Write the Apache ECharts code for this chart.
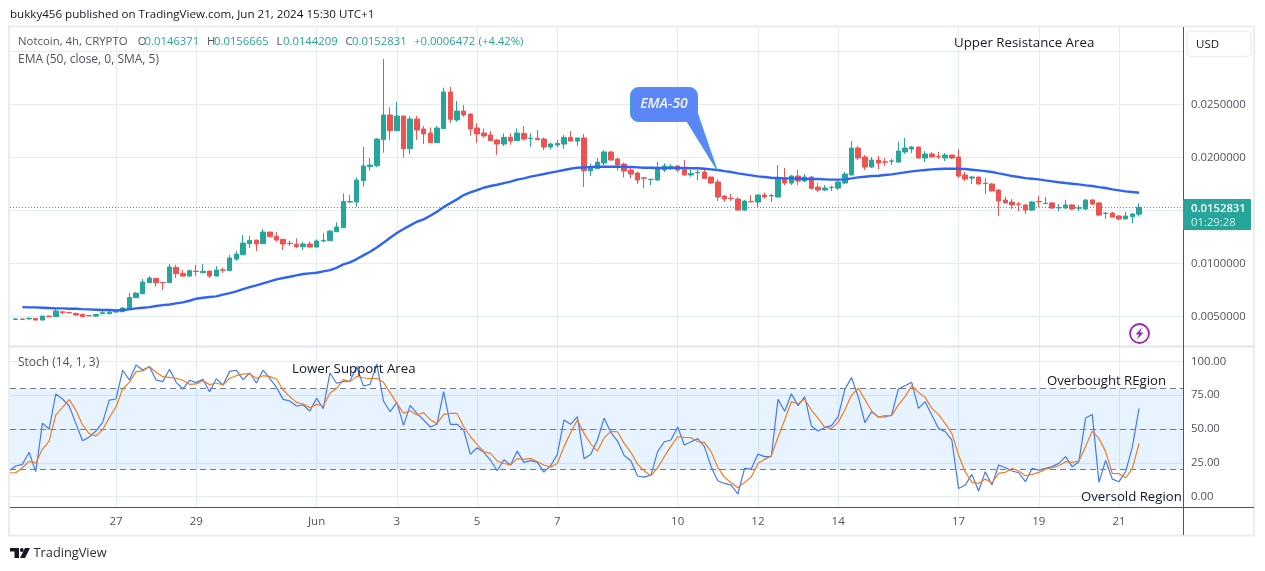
<!DOCTYPE html>
<html><head><meta charset="utf-8">
<style>html,body{margin:0;padding:0;background:#fff}#c{width:1265px;height:571px}</style>
<script src="https://cdn.jsdelivr.net/npm/echarts@6/dist/echarts.min.js"></script>
</head><body><div id="c"></div>
<script>
// Prices are listed in units of 0.0001 USD: [open, close, low, high]; one row per 4h bar.
const PRICE_UNIT = 1e-4;
const candles = [
[47.1,47.5,46.8,48.2],[47.5,47.0,46.6,47.8],[47.5,48.2,47.3,49],[48.0,46.5,46.3,48.2],[46.5,50.2,46.3,50.8],[50.2,49.6,49.4,50.6],[49.6,55.0,49.4,57.5],[54.3,53.4,52,54.5],[53.7,53.3,53.1,53.8],[52.7,51.2,50.6,53.8],
[51.8,49.6,49.4,52.5],[50.8,50.5,50.2,51],[50.2,51.8,49.3,52.2],[52.4,53.4,52.2,55.3],[52.4,54,52.2,55],[54,55,53.4,56.5],[54.3,57.8,54,58.7],[56.8,67.8,56.5,72.2],[67.5,71.9,67.3,72.9],[71.3,82.3,71,85.1],
[81.7,86.1,81.5,88],[85.8,81.7,77.9,86],[82,81.7,74.8,82.2],[81.7,96.5,81.5,99.3],[96.1,90.2,86.1,98.4],[90.5,88,87.5,93.6],[88,93,87,94],[92.6,92.3,88.3,98.4],[91.1,92.4,90.8,99.3],[92.7,88,86.1,93],
[88,93.6,87.6,97.4],[93.8,93.5,91.1,96.1],[93,105,92.8,107.8],[104,108.7,102.4,111.6],[108,119.1,107.8,126.7],[118.5,121.6,114.4,126],[121.9,118.2,111.5,122.2],[118.5,129.5,118.2,132.3],[129.5,125.1,125,129.7],[125.4,121.9,120.4,129.5],
[122.6,118.2,112.5,122.8],[118.9,118.6,116.3,121.3],[117.9,115.6,114.4,123.5],[115.6,118.2,112.5,120],[118.2,115.3,115,120.7],[115.3,121,115,122.6],[121,121.6,120,128.5],[121.3,130.4,121,131.4],[129.8,134.2,129.5,138.6],[133.6,158.4,133.4,166],
[157.8,158.4,157.2,164.4],[157.8,178.5,153.4,181],[177.9,191.8,172.3,209.7],[191.1,192.7,187.4,199.3],[192,217.2,190.5,218.2],[216.6,239.9,204.3,292.7],[239.9,225.1,216.3,247.1],[225.1,238.9,224.8,252.1],[238.9,208.1,199.6,239.2],[208.1,236.1,203,238.9],
[236.1,225.7,216.3,238.9],[226.7,222,212.5,229.5],[222.9,213.8,213.5,228.2],[213.8,227.6,213.5,229.5],[227,261.6,226.7,265.7],[261.6,235.8,232.6,266.3],[235.2,243.6,233.6,253.1],[243.6,239.9,238.3,249.3],[240.8,226.7,220.4,241],[227.6,222,213.8,232],
[222.9,220.1,218.5,227.3],[221,215.7,215.5,224.8],[216.3,212.5,202.4,217.2],[212.5,218.8,210.6,222.6],[218.8,215.3,211.9,222.6],[215.7,222.9,215.5,227.3],[222.6,217.2,215.7,229.5],[217.6,218,210,222.6],[217.9,216.6,216.4,225.7],[217.2,209.7,206.9,218.8],
[209.7,212.5,207.5,214],[211.6,213.1,209.4,216.6],[212.5,218.8,207.8,221],[218.8,215.3,215,224.8],[215.3,218.2,210.9,218.4],[218.2,187.4,172,222],[187.4,190.5,182.3,194.3],[189.2,195.5,189,199.3],[194.6,205,192.7,206.9],[205,197.4,197.2,205.9],
[198.4,192.7,187.4,199.6],[193.6,187,181.1,194.9],[188,184.2,180.1,190.5],[185.1,178.5,174.8,186.4],[180.6,180.3,171,181.4],[179,179.3,173.8,179.5],[178.5,188.9,178.3,195.5],[188,191.8,186.1,194.3],[190.9,191.2,188,193.6],[191.8,188,186.1,192.7],
[188.6,183.3,183,197.4],[183.3,184.8,181.7,188],[185.6,185.9,178.5,188],[186.1,180.1,179.8,188.6],[181.4,175.7,174.8,181.6],[176.7,162.5,158.7,179.2],[163.4,160.6,157.8,164.4],[161.3,161.0,159,165.3],[160.6,150.2,150,162.5],[150.2,158.7,149.6,159.7],
[158.2,158.0,157.8,164.4],[157.8,164.4,153.4,165],[164.4,162.5,161,166.9],[163.6,163.9,157.8,165.3],[162.5,180.4,162,192.7],[180.4,175.7,173.8,189.9],[175.7,182.3,173.8,183.3],[182.3,177.6,173.8,188],[177.6,181.4,176.7,184.2],[181.4,170.7,169.7,182.3],
[171.9,169.1,167.2,175.7],[169.1,171,168.2,173.8],[171.4,171.7,168.2,173.2],[171,176.7,169.1,177.6],[175.7,184.2,174.8,186.1],[183.3,208.7,183,215.4],[208.7,199.3,197.4,210.6],[200.3,190.8,188,202.1],[190.8,197.4,189.9,200.3],[197.4,194.6,188.9,201.2],
[195.7,195.4,191.8,199.3],[196.3,196.6,192.7,198.4],[195.5,205.9,195.2,214.4],[205,208.7,203.1,218.2],[207.8,209.7,204,210.6],[209.7,199.3,199,210],[199.3,203.1,195.5,205.9],[203.1,200.3,200,205],[200.7,200.4,198.4,205],[199.3,202.1,196.5,204],
[202.1,199.3,198.4,202.4],[200.3,182.3,180.4,207.8],[183.3,179.5,177.6,186.1],[180.4,181.4,174.8,182.3],[181.4,174.8,174.6,181.6],[175.6,175.3,165.3,180.4],[174.8,168.2,168,175.7],[169.1,158.7,144.6,170.1],[159.7,156.9,156.7,162.5],[157.8,155,151.2,160.6],
[156,155.7,149.3,157.8],[155,150.2,146.5,155.9],[150.2,157.8,149.3,158.7],[158.3,158,153.1,163.5],[156.3,156.6,155.9,162.5],[156.9,152.1,151.2,157.8],[152.3,152.6,149.3,155.9],[152.1,155,151.8,159.7],[155,151.2,150.2,155.9],[152.0,152.3,149.3,155],
[151.2,159.7,150.2,160.6],[159.7,155.9,155,160.6],[156.9,145.5,144.6,157.8],[147,147.3,141.8,148.4],[147.4,143.6,143.4,148.4],[144.6,141.8,140.8,145.5],[141.8,144.6,141.6,148.4],[144,146.5,138,147.4],[146.371,152.831,144.209,156.665]
];
// EMA-50, same units, same bars (first bar has no value drawn)
const ema50 = [null,58.7,58.4,58.4,58.1,57.8,57.5,57.5,57.2,57.2,56.8,56.5,56.2,55.9,55.9,55.6,55.9,56.5,57.5,58.1,58.7,59.7,60.6,61.2,62.2,63.1,64.7,66.6,67.5,68.2,68.8,70.4,71.9,73.5,75.7,77.6,79.2,81.1,82.9,84.8,86.1,87.3,88.6,89.9,90.5,91.1,92.4,93.6,95.8,99,100.9,104,107.5,110.9,115,119.4,124.1,128.5,132.3,135.8,139.2,
141.4,144.9,148.7,153.1,156.8,160.3,164.4,166.9,169.1,171.3,172.9,174.1,175.7,177,178.9,180.1,181.7,183,184.2,185.5,186.7,188,189.2,190.2,190.5,190.8,191.1,191.1,191.1,191.1,190.8,190.8,190.5,190.2,190.2,189.9,189.9,189.9,189.9,189.9,189.6,189.6,189.2,188.6,188,187,186.1,184.8,183.9,183,182,181.4,180.7,180.4,
180.1,180.1,179.8,179.8,179.5,179.5,179.2,178.9,178.9,179.2,180.1,181.1,181.7,182.3,182.6,183.3,183.9,184.8,185.8,186.7,187.4,188,188.6,188.9,189.2,189.2,189.2,188.9,188.3,187.7,187,186.1,184.8,183.6,182.3,181.4,180.4,179.8,179.2,178.2,177.3,176.4,175.7,175.1,174.5,173.5,172.9,171.9,171,169.7,168.8,167.9,167.2,166.6];
// Stochastic, starting one bar earlier than the candles (that bar sits just off the left edge)
const stochK = [19,22.7,23.9,32.8,18.5,54.4,50,75.9,72.2,67,54.2,41.4,44.1,48.5,54.9,71.4,72.2,93.4,86.2,97.3,93.6,96.1,86.2,85,94.1,84.5,79.6,86,84.3,86.7,77.6,87.2,82.5,92.6,93.4,86.5,91.4,84,93.6,87.5,80.8,71.9,70.7,67,67.8,63.3,72.7,65,91.4,83.8,85,85.5,96.1,81.8,83,98.1,70.7,62.8,69.7,52.7,67.5,61.6,
56.7,51.5,53.5,77.6,53.5,53.5,49.3,31.3,36.2,32.8,27.1,19.2,27.3,23.4,33.7,25.4,26.6,25.4,18.2,22.9,31.3,56.7,53.5,59.1,28.1,31.3,41.9,58.1,47.5,41.1,30.5,26.6,15.3,14.5,16,33.3,40.6,41.9,51.5,38.2,40.6,42.9,37,22.2,11.8,9.8,8.6,2,21,20.4,31.5,29.6,29.6,71.9,63.1,
76.1,67.3,73.9,52.2,48.5,51.2,52.5,59.1,79.3,88,73.9,54.7,62.8,58.9,58.9,60.4,79.6,82,84.5,65.3,70.2,60.4,50.5,48,41.9,6.1,8.6,16.5,4.2,18.5,8.6,23.4,21.4,19,17.7,11.1,20.9,19.7,20.9,22.2,24.6,29.6,22.2,25.9,58.1,60.8,10.6,26.8,13,11.1,18.5,37,65.3];
const stochD = [17.7,17.7,21.4,26.1,24.9,35.2,41.1,60.4,66,71.7,64,53,46.6,44.8,49.5,58.4,66.5,79.6,84.5,92.4,92.9,96.1,91.9,88.7,88.2,87.5,86,83,83.3,85.7,82.8,84,82.5,87.5,89.4,90.7,90.7,87.5,89.4,88.7,87,78.8,73.9,69.7,68.5,65.8,68.2,67,76.4,80.1,86.5,85,88.9,87.9,87.2,87.5,84.5,76.9,69,61.8,63.3,60.4,
62.1,56.9,54,60.8,61.6,61.6,51.7,44.3,38.7,33.3,32,26.4,24.6,23.4,28.1,27.6,28.3,25.9,23.4,21.9,24.6,37,47.5,56.7,46.8,38.9,33.7,43.6,48.3,48,39.4,32.8,24.1,19,15.5,21.4,29.6,37.4,44.3,43.9,43.6,40.6,40.2,33.3,21.7,14.3,10.3,6.6,10.6,14.5,24.6,27.6,30.3,43.9,56.7,
70.2,68.7,72.2,64,57.9,51.2,50.5,54.9,64,75.1,80.1,71.9,63.3,58.9,59.9,59.9,67.8,73.9,82,77.1,73.4,65.3,60.8,54.2,46.8,30.8,18.5,10.6,9.8,13,10.3,17.2,18,20.9,19,15.5,16.5,18,20.4,21.4,22.9,25.9,25.4,26.4,37,48.5,43.1,33.3,17.2,17,14,20.9,39.4];
// Date ticks: bar index -> label
const tickBars = [15,27,45,57,69,81,99,111,123,141,153,165];
const tickLabels = ['27','29','Jun','3','5','7','10','12','14','17','19','21'];
const priceTicks = [0.005,0.01,0.015,0.02,0.025,0.03];
const priceLabels = [0.005,0.01,0.02,0.025];
const stochTicks = [0,25,50,75,100];
const lastClose = 0.0152831;

const FONT = '"Open Sans","Noto Sans",sans-serif';
const GRID = '#e3ebf3', TXT = '#50535e', DARK = '#131722', UP = '#26a69a', DOWN = '#ef5350';
const toPrice = v => v == null ? null : +(v * PRICE_UNIT).toFixed(8);
const txt = (x, y, text, fill, size, extra) => ({type:'text', silent:true, z:50, style:Object.assign({x, y:y+1, text, fill, font:`${size||12}px ${FONT}`, verticalAlign:'middle'}, extra||{})});
const line = (x1,y1,x2,y2,stroke,w) => ({type:'line', silent:true, z:40, shape:{x1,y1,x2,y2}, style:{stroke, lineWidth:w||1}});

const graphic = [
  // frame
  {type:'rect', silent:true, z:39, shape:{x:9,y:26.5,width:1245,height:509}, style:{fill:'none',stroke:'#e9ecf1',lineWidth:2}},
  line(10,346.5,1254,346.5,'#e0e3eb',2),
  line(10,507.5,1254,507.5,'#50535e',1),
  line(1183.5,27,1183.5,535,'#50535e',1),
  // header
  txt(10,14,'bukky456 published on TradingView.com, Jun 21, 2024 15:30 UTC+1',DARK,11.6),
  txt(18,41,'Notcoin, 4h, CRYPTO',TXT,11.4),
  txt(137.7,41,'O',TXT,11.3), txt(144.6,41,'0.0146371',UP,11.3),
  txt(207,41,'H',TXT,11.3), txt(214,41,'0.0156665',UP,11.3),
  txt(276.5,41,'L',TXT,11.3), txt(283,41,'0.0144209',UP,11.3),
  txt(345.4,41,'C',TXT,11.3), txt(352,41,'0.0152831',UP,11.3),
  txt(414,41,'+0.0006472',UP,11.3), txt(478.6,41,'(+4.42%)',UP,11.3),
  txt(18,59,'EMA (50, close, 0, SMA, 5)',TXT,12),
  txt(18,362,'Stoch (14, 1, 3)',TXT,12),
  // annotations
  txt(954,42,'Upper Resistance Area',DARK,13.3),
  txt(292,368,'Lower Support Area',DARK,13.3),
  txt(1047,380,'Overbought REgion',DARK,13.2),
  txt(1081,496,'Oversold Region',DARK,13.2),
  // EMA-50 callout
  {type:'polygon', silent:true, z:45, shape:{points:[[686,120],[697,112],[717,170]]}, style:{fill:'#5b86f7',stroke:'#3aa6c9',lineWidth:1}},
  {type:'rect', silent:true, z:46, shape:{x:630.5,y:87.5,width:67,height:34,r:8}, style:{fill:'#5b86f7',stroke:'#3aa6c9',lineWidth:1}},
  {type:'polygon', silent:true, z:47, shape:{points:[[687,121.5],[696.8,113],[699,118],[694,122]]}, style:{fill:'#5b86f7'}},
  txt(664,103,'EMA-50','#f2f5ff',14,{align:'center',font:`italic 600 14px ${FONT}`}),
  // USD button
  {type:'rect', silent:true, z:41, shape:{x:1187,y:31.5,width:64,height:25,r:4}, style:{fill:'#fff',stroke:'#eceef2',lineWidth:1.5}},
  txt(1196,44,'USD',DARK,11.5),
  // last price tag
  {type:'rect', silent:true, z:42, shape:{x:1183,y:199,width:68,height:31,r:1}, style:{fill:UP}},
  txt(1191,207.5,'0.0152831','#fff',11.3,{font:`600 11.3px ${FONT}`}),
  txt(1191,221.5,'01:29:28','#c8ece8',11.3),
  // lightning icon
  {type:'circle', silent:true, z:41, shape:{cx:1139.5,cy:333.5,r:9.5}, style:{fill:'#fff',stroke:'#9c27b0',lineWidth:1.8}},
  {type:'polygon', silent:true, z:42, shape:{points:[[1142,327.5],[1135.5,334.5],[1139,334.5],[1137,339.5],[1143.5,332.5],[1140,332.5]]}, style:{fill:'#9c27b0'}},
  // logo
  {type:'polygon', silent:true, z:41, shape:{points:[[10,548],[19,548],[19,558],[14.5,558],[14.5,551.5],[10,551.5]]}, style:{fill:DARK}},
  {type:'circle', silent:true, z:41, shape:{cx:21.8,cy:550,r:1.9}, style:{fill:DARK}},
  {type:'polygon', silent:true, z:41, shape:{points:[[25,548],[30,548],[25,558],[20,558]]}, style:{fill:DARK}},
  txt(33.5,552.5,'TradingView','#2a2e39',13,{font:`400 12.8px ${FONT}`})
];

const xBase = {type:'value', min:-0.85, max:174.57, axisLine:{show:false}, axisTick:{show:false, customValues:tickBars},
  splitLine:{show:true, lineStyle:{color:GRID,width:1}}};
const xy = (arr, start) => arr.map((v,i) => [i+start, v]);

const option = {
  animation:false, backgroundColor:'#fff',
  grid:[{left:10,top:27,width:1173,height:319},{left:10,top:347,width:1173,height:160}],
  xAxis:[
    Object.assign({gridIndex:0}, xBase, {axisLabel:{show:false}}),
    Object.assign({gridIndex:1}, xBase, {axisLabel:{show:true, customValues:tickBars, color:TXT, fontFamily:FONT, fontSize:11.5, margin:9,
      formatter:v => tickLabels[tickBars.indexOf(v)]}})
  ],
  yAxis:[
    {gridIndex:0, type:'value', position:'right', min:0.0022, max:0.03229, scale:true,
      axisLine:{show:false}, axisTick:{show:false, customValues:priceTicks},
      axisLabel:{customValues:priceLabels, color:TXT, fontFamily:FONT, fontSize:11.3, margin:8, padding:[2,0,0,0], formatter:v => v.toFixed(7)},
      splitLine:{show:true, lineStyle:{color:GRID,width:1}}},
    {gridIndex:1, type:'value', position:'right', min:-7.6, max:110.6, scale:true,
      axisLine:{show:false}, axisTick:{show:false, customValues:stochTicks},
      axisLabel:{customValues:stochTicks, color:TXT, fontFamily:FONT, fontSize:11.3, margin:8, padding:[2,0,0,0], formatter:v => v.toFixed(2)},
      splitLine:{show:true, lineStyle:{color:GRID,width:1}}}
  ],
  series:[
    {name:'Notcoin', type:'candlestick', xAxisIndex:0, yAxisIndex:0, barWidth:5, z:3,
      data:candles.map((c,i) => [i, toPrice(c[0]), toPrice(c[1]), toPrice(c[2]), toPrice(c[3])]),
      itemStyle:{color:UP,color0:DOWN,borderColor:UP,borderColor0:DOWN,borderColorDoji:UP,borderWidth:1},
      markLine:{silent:true, symbol:'none', animation:false, precision:7, label:{show:false}, lineStyle:{color:UP,type:[1,2],width:1}, data:[{yAxis:lastClose}]}},
    {name:'EMA 50', type:'line', xAxisIndex:0, yAxisIndex:0, showSymbol:false, z:4, connectNulls:false,
      lineStyle:{color:'#2f63f6',width:2.4}, data:xy(ema50.map(toPrice),0)},
    {name:'%K', type:'line', xAxisIndex:1, yAxisIndex:1, showSymbol:false, z:4, clip:true,
      lineStyle:{color:'#4179f4',width:1.2}, data:xy(stochK,-1),
      markArea:{silent:true, itemStyle:{color:'rgba(33,150,243,0.11)'}, data:[[{yAxis:80},{yAxis:20}]]},
      markLine:{silent:true, symbol:'none', animation:false, label:{show:false}, lineStyle:{color:'#787b86',type:[6,4],width:1}, data:[{yAxis:80},{yAxis:50},{yAxis:20}]}},
    {name:'%D', type:'line', xAxisIndex:1, yAxisIndex:1, showSymbol:false, z:5, clip:true,
      lineStyle:{color:'#f57c1f',width:1.2}, data:xy(stochD,-1)}
  ],
  graphic:{elements:graphic}
};
echarts.init(document.getElementById('c'),null,{renderer:'canvas'}).setOption(option);
</script></body></html>
